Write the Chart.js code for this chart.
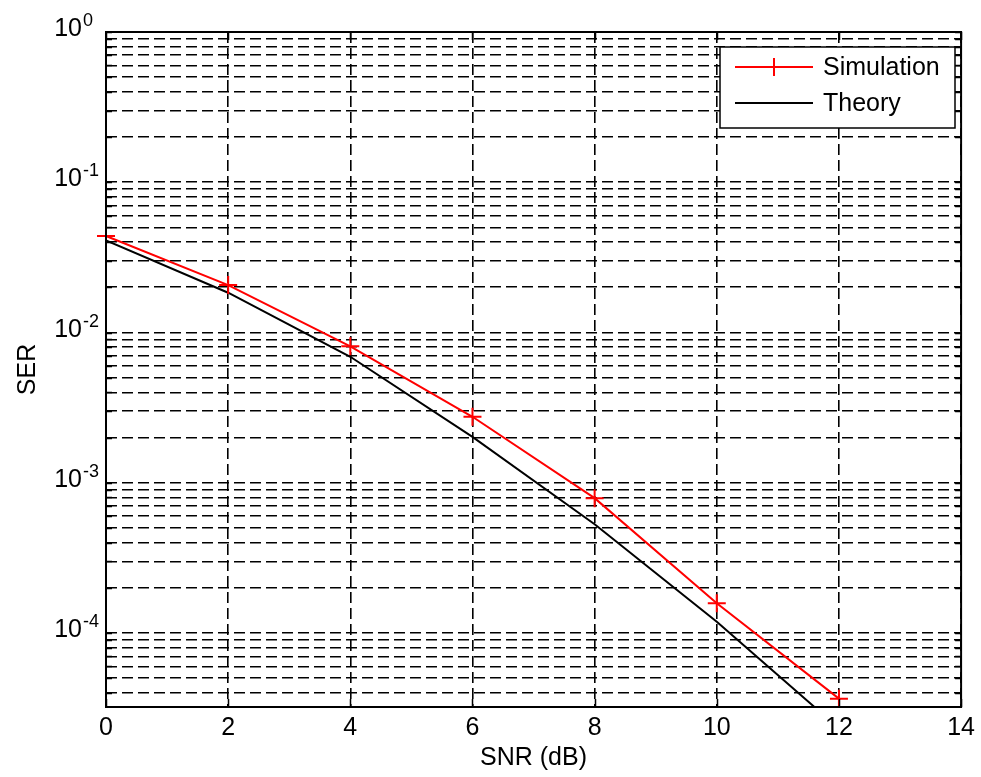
<!DOCTYPE html>
<html>
<head>
<meta charset="utf-8">
<script src="https://cdn.jsdelivr.net/npm/chart.js@4.4.1/dist/chart.umd.min.js"></script>
<style>
  html, body { margin: 0; padding: 0; background: #fff; }
  #wrap { width: 981px; height: 777px; position: relative; }
</style>
</head>
<body>
<div id="wrap"><canvas id="serChart"></canvas></div>
<script>
// ── Data ─────────────────────────────────────────────────────
const snrDb         = [0, 2, 4, 6, 8, 10, 12];
const serSimulation = [0.0439, 0.0207, 0.0081, 0.00275, 0.00079, 0.000158, 0.0000366];
const serTheory     = [0.0410, 0.0184, 0.0069, 0.00202, 0.00053, 0.000119, 0.0000232];

const xTicks        = [0, 2, 4, 6, 8, 10, 12, 14];
const yDecades      = [1e-5, 1e-4, 1e-3, 1e-2, 1e-1];
const yMinorSteps   = [1, 2, 3, 4, 5, 6, 7, 8, 9];
const yLabelExps    = [0, -1, -2, -3, -4];
const yMin = 3.22e-5;
const yMax = 1;

const FONT = '"Liberation Sans", Arial, sans-serif';

// every 1..9 x 10^k inside the axis range, plus the top 10^0
const yTickValues = [];
yDecades.forEach(d => yMinorSteps.forEach(s => {
  const v = +(d * s).toPrecision(3);
  if (v >= yMin && v <= yMax) yTickValues.push(v);
}));
yTickValues.push(yMax);

// ── Plugins ──────────────────────────────────────────────────
const whiteBg = {
  id: 'whiteBg',
  beforeDraw(chart) {
    const { ctx, width, height } = chart;
    ctx.save();
    ctx.fillStyle = '#fff';
    ctx.fillRect(0, 0, width, height);
    ctx.restore();
  }
};

const matlabFrame = {
  id: 'matlabFrame',
  afterDraw(chart) {
    const { ctx, chartArea: a, scales: { x, y } } = chart;
    ctx.save();

    // inward ticks on all four sides
    ctx.strokeStyle = '#000';
    ctx.lineWidth = 1.5;
    ctx.beginPath();
    yTickValues.forEach(v => {
      const py = Math.round(y.getPixelForValue(v)) + 0.5;
      ctx.moveTo(a.left, py);  ctx.lineTo(a.left + 6, py);
      ctx.moveTo(a.right, py); ctx.lineTo(a.right - 6, py);
    });
    xTicks.forEach(v => {
      const px = Math.round(x.getPixelForValue(v)) + 0.5;
      ctx.moveTo(px, a.bottom); ctx.lineTo(px, a.bottom - 8);
      ctx.moveTo(px, a.top);    ctx.lineTo(px, a.top + 8);
    });
    ctx.stroke();

    // box
    ctx.lineWidth = 2;
    ctx.strokeRect(a.left, a.top, a.right - a.left, a.bottom - a.top);

    // y tick labels 10^k
    ctx.fillStyle = '#000';
    yLabelExps.forEach(e => {
      const py = y.getPixelForValue(Math.pow(10, e));
      ctx.font = '25px ' + FONT;
      ctx.textAlign = 'right';
      ctx.textBaseline = 'alphabetic';
      ctx.fillText('10', 82, py + 4);
      ctx.font = '18px ' + FONT;
      ctx.textAlign = 'left';
      ctx.fillText(String(e), 83, py - 6);
    });

    // legend box inside the plot
    const lx = 720, ly = 47, lw = 235, lh = 81;
    ctx.fillStyle = '#fff';
    ctx.fillRect(lx, ly, lw, lh);
    ctx.lineWidth = 1.5;
    ctx.strokeStyle = '#000';
    ctx.strokeRect(lx, ly, lw, lh);

    const rows = [67, 103];
    chart.data.datasets.forEach((ds, i) => {
      const ry = rows[i];
      ctx.strokeStyle = ds.borderColor;
      ctx.lineWidth = ds.borderWidth;
      ctx.beginPath();
      ctx.moveTo(735, ry); ctx.lineTo(813, ry);
      ctx.stroke();
      if (ds.pointRadius > 0) {
        ctx.lineWidth = ds.pointBorderWidth;
        ctx.beginPath();
        ctx.moveTo(774 - 9, ry); ctx.lineTo(774 + 9, ry);
        ctx.moveTo(774, ry - 9); ctx.lineTo(774, ry + 9);
        ctx.stroke();
      }
      ctx.fillStyle = '#000';
      ctx.font = '25px ' + FONT;
      ctx.textAlign = 'left';
      ctx.textBaseline = 'middle';
      ctx.fillText(ds.label, 823, ry + 1);
    });

    ctx.restore();
  }
};

// ── Chart ────────────────────────────────────────────────────
new Chart(document.getElementById('serChart'), {
  type: 'line',
  data: {
    datasets: [
      {
        label: 'Simulation',
        data: snrDb.map((s, i) => ({ x: s, y: serSimulation[i] })),
        borderColor: '#ff0000',
        backgroundColor: '#ff0000',
        borderWidth: 2,
        pointStyle: 'cross',
        pointRadius: 9,
        pointBorderWidth: 2,
        pointBorderColor: '#ff0000',
        tension: 0,
        clip: { left: 12, right: 12, top: 12, bottom: 0 }
      },
      {
        label: 'Theory',
        data: snrDb.map((s, i) => ({ x: s, y: serTheory[i] })),
        borderColor: '#000000',
        backgroundColor: '#000000',
        borderWidth: 2,
        pointRadius: 0,
        tension: 0
      }
    ]
  },
  options: {
    responsive: true,
    maintainAspectRatio: false,
    animation: false,
    events: [],
    layout: { padding: { top: 32, right: 18, left: 0, bottom: 0 } },
    plugins: {
      legend: { display: false },
      tooltip: { enabled: false }
    },
    scales: {
      x: {
        type: 'linear',
        min: 0, max: 14,
        afterBuildTicks: s => { s.ticks = xTicks.map(v => ({ value: v })); },
        afterFit: s => { s.height = 70; },
        ticks: {
          color: '#000', font: { family: FONT, size: 25 },
          padding: 6, maxRotation: 0, autoSkip: false
        },
        grid: { color: '#000', lineWidth: 1.6, drawTicks: false },
        border: { display: false, dash: [11, 5] },
        title: {
          display: true, text: 'SNR (dB)', color: '#000',
          font: { family: FONT, size: 25 }, padding: { top: 0, bottom: 4 }
        }
      },
      y: {
        type: 'logarithmic',
        min: yMin, max: yMax,
        afterBuildTicks: s => { s.ticks = yTickValues.map(v => ({ value: v })); },
        afterFit: s => { s.width = 106; },
        ticks: { display: false },
        grid: { color: '#000', lineWidth: 1.6, drawTicks: false },
        border: { display: false, dash: [11, 5] },
        title: {
          display: true, text: 'SER', color: '#000',
          font: { family: FONT, size: 25 }, padding: { top: 13, bottom: 0 }
        }
      }
    }
  },
  plugins: [whiteBg, matlabFrame]
});
</script>
</body>
</html>
